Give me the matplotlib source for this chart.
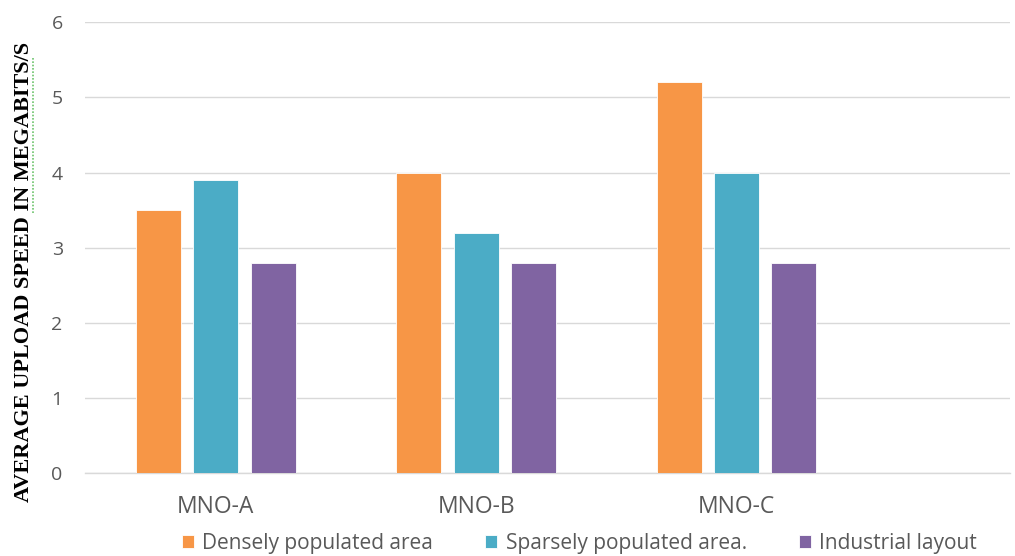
import numpy as np
import matplotlib
matplotlib.use("Agg")
import matplotlib.pyplot as plt
from matplotlib.lines import Line2D

# upload speed per operator and area type
operators = ["MNO-A", "MNO-B", "MNO-C"]
dense     = [3.5, 4.0, 5.2]
sparse    = [3.9, 3.2, 4.0]
industry  = [2.8, 2.8, 2.8]
series_names = ["Densely populated area", "Sparsely populated area.", "Industrial layout"]
colors = ["#F79646", "#4BACC6", "#8064A2"]

TEXT = "#595959"
GRID = "#D9D9D9"

plt.rcParams["font.family"] = ["Open Sans", "DejaVu Sans"]

fig = plt.figure(figsize=(10.15, 5.56), dpi=100)
ax = fig.add_axes([0.0837, 0.149, 0.9113, 0.811])

x = np.arange(len(operators))
w = 0.173
step = 0.22
for i, (vals, c, name) in enumerate(zip([dense, sparse, industry], colors, series_names)):
    ax.bar(x + (i - 1) * step, vals, width=w, color=c, label=name,
           edgecolor="white", linewidth=0.6, zorder=3)

ax.set_ylim(0, 6)
ax.set_xlim(-0.503, 3.05)
ax.set_yticks(range(0, 7))
ax.set_xticks(x)
ax.set_xticklabels(operators)
ax.tick_params(axis="both", length=0, labelcolor=TEXT)
ax.tick_params(axis="x", pad=16, labelsize=16.5)
ax.tick_params(axis="y", pad=16, labelsize=14)
ax.grid(axis="y", color=GRID, linewidth=1, zorder=0)
for s in ["top", "right", "left"]:
    ax.spines[s].set_visible(False)
ax.spines["bottom"].set_color(GRID)
ax.spines["bottom"].set_linewidth(1)

fig.text(0.0235, 0.511, "AVERAGE UPLOAD SPEED IN MEGABITS/S", rotation=90,
         ha="center", va="center", fontsize=16, fontweight="bold",
         family="Liberation Serif", color="black")
# spell-check squiggle under the last words
fig.add_artist(Line2D([0.0325, 0.0325], [1 - 213 / 556, 1 - 57 / 556],
                      transform=fig.transFigure, color="#6CC46C",
                      linestyle=(0, (1, 1)), linewidth=1.2))

fig.legend(loc="center", bbox_to_anchor=(0.571, 0.022), ncol=3, frameon=False,
           fontsize=15, labelcolor=TEXT, handlelength=0.58, handleheight=0.58,
           handletextpad=0.4, columnspacing=2.5, borderpad=0, borderaxespad=0)

fig.savefig("out.png", dpi=100, facecolor="white")
